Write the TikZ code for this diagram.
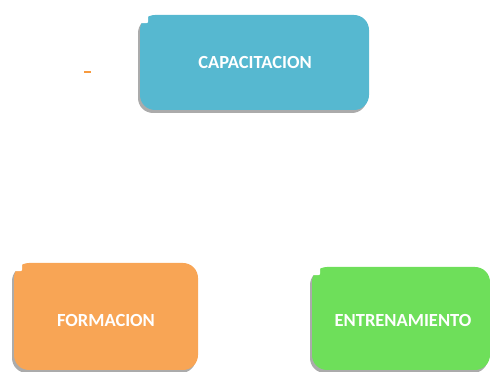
\documentclass[tikz,border=0pt]{standalone}
\usepackage{fontspec}
\setmainfont{Carlito}
\usetikzlibrary{shadows,positioning}
\definecolor{capblue}{HTML}{56B8D0}
\definecolor{forange}{HTML}{F8A555}
\definecolor{egreen}{HTML}{6EDF5A}
\definecolor{dashor}{HTML}{F79A3E}
\tikzset{
  x=1pt,y=1pt,
  boxshadow/.style={rounded corners=15pt, drop shadow={shadow xshift=-2pt, shadow yshift=-3pt, fill=black!55, opacity=0.6}},
  label text/.style={font=\fontsize{18.5}{22}\selectfont\bfseries, text=white},
  notch/.style={fill=white, draw=none, rounded corners=2pt}
}
\begin{document}
\begin{tikzpicture}
\useasboundingbox (0,0) rectangle (490,372);
% CAPACITACION
\fill[capblue, boxshadow]
  (140,357) -- (369,357) -- (369,262) -- (140,262) -- cycle;
\node[notch, minimum size=8pt, anchor=north west] (n1) at (140,357) {};
\node[label text] (cap) at (255,309.5) {CAPACITACION};
% FORMACION
\fill[forange, boxshadow]
  (14,109) -- (198,109) -- (198,2) -- (14,2) -- cycle;
\node[notch, minimum size=8pt, anchor=north west] (n2) at (14,109) {};
\node[label text] (for) at (106,52) {FORMACION};
% ENTRENAMIENTO
\fill[egreen, boxshadow]
  (312,105) -- (490,105) -- (490,2) -- (312,2) -- cycle;
\node[notch, minimum size=8pt, anchor=north west] (n3) at (312,105) {};
\node[label text] (ent) at (403,52) {ENTRENAMIENTO};
% small orange dash
\coordinate (d1) at (84,300);
\coordinate (d2) at (91,300);
\draw[dashor, line width=1.3pt] (d1) -- (d2);
\end{tikzpicture}
\end{document}
